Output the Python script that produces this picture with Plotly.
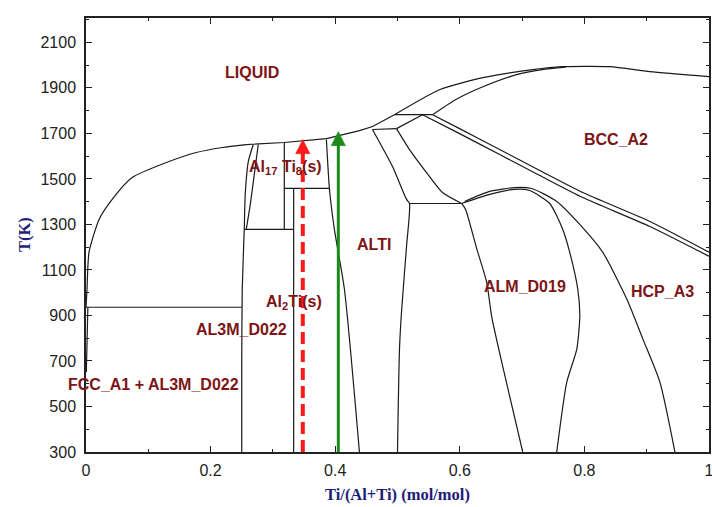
import plotly.graph_objects as go

# ---------------- data (x = Ti/(Al+Ti), T in K) ----------------
liq_al_x = [0.0, 0.0016, 0.0048, 0.021, 0.042, 0.074, 0.129, 0.177, 0.219, 0.257]
liq_al_T = [936, 1015, 1177, 1322, 1410, 1506, 1572, 1616, 1638, 1651]
liq_mid_x = [0.257, 0.318, 0.386, 0.439, 0.460, 0.495]
liq_mid_T = [1651, 1660, 1677, 1712, 1730, 1782]
liq_bcc_x = [0.495, 0.5675, 0.637, 0.717, 0.765, 0.841, 0.905, 1.0]
liq_bcc_T = [1782, 1892, 1945, 1980, 1993, 1993, 1971, 1949]
sol_bcc_x = [0.5563, 0.593, 0.637, 0.691, 0.732, 0.770]
sol_bcc_T = [1782, 1848, 1905, 1958, 1980, 1991]

peri_hi_x = [0.4952, 0.5563]
peri_hi_T = [1782, 1782]
peri_lo_x = [0.4598, 0.4984]
peri_lo_T = [1717, 1721]
alpha_top_x = [0.4984, 0.5402]
alpha_top_T = [1721, 1782]

transus_b_x = [0.5563, 0.5997, 0.664, 0.7283, 0.7974, 0.9051, 1.0]
transus_b_T = [1782, 1721, 1629, 1537, 1440, 1313, 1178]
transus_a_x = [0.5402, 0.5997, 0.664, 0.7283, 0.7974, 0.9051, 1.0]
transus_a_T = [1782, 1699, 1607, 1515, 1418, 1291, 1160]

gamma_r_x = [0.4598, 0.492, 0.5145, 0.5193, 0.5145, 0.5064, 0.5032, 0.5]
gamma_r_T = [1717, 1554, 1410, 1392, 1204, 914, 752, 300]
alpha_l_x = [0.4984, 0.5193, 0.5466, 0.5723, 0.6029]
alpha_l_T = [1721, 1629, 1528, 1440, 1392]
eutectoid_x = [0.5193, 0.6029]
eutectoid_T = [1392, 1392]

a2_left_x = [0.6029, 0.6093, 0.627, 0.6431, 0.6511, 0.6688, 0.701]
a2_left_T = [1392, 1366, 1195, 1046, 896, 677, 300]
a2_right_x = [0.6029, 0.6479, 0.6881, 0.7122, 0.7444, 0.7653, 0.7765, 0.7894, 0.7926, 0.7878, 0.7717, 0.7556]
a2_right_T = [1392, 1432, 1454, 1449, 1392, 1278, 1177, 1015, 896, 752, 607, 300]
a2_outer_x = [0.6077, 0.6479, 0.6881, 0.7154, 0.7556, 0.7926, 0.8296, 0.8682, 0.8939, 0.9212, 0.9453]
a2_outer_T = [1401, 1445, 1462, 1458, 1401, 1300, 1177, 971, 796, 607, 300]

gamma_l_x = [0.3859, 0.3907, 0.3987, 0.4148, 0.4389]
gamma_l_T = [1673, 1458, 1278, 1015, 300]

box_left_x = [0.3183, 0.3183]
box_left_T = [1660, 1278]
box_mid_x = [0.3183, 0.3907]
box_mid_T = [1458, 1458]
al2ti_x = [0.3333, 0.3333]
al2ti_T = [1458, 300]
h1278_x = [0.254, 0.3333]
h1278_T = [1278, 1278]

al3ti_a_x = [0.2685, 0.2605, 0.2556, 0.254, 0.2508, 0.25, 0.25]
al3ti_a_T = [1651, 1576, 1432, 1278, 1015, 700, 300]
al3ti_b_x = [0.2765, 0.2701, 0.2637, 0.2572]
al3ti_b_T = [1651, 1519, 1388, 1278]

h936_x = [0.0, 0.25]
h936_T = [936, 936]
fcc_x = [0.003, 0.0025, 0.0015, 0.0005]
fcc_T = [936, 880, 760, 650]

red_arrow_x = 0.348
red_arrow_T = [300, 1673]
green_arrow_x = 0.405
green_arrow_T = [300, 1708]

labels = [
    ("LIQUID", 0.267, 1967),
    ("BCC_A2", 0.850, 1673),
    ("ALTI", 0.462, 1210),
    ("ALM_D019", 0.704, 1028),
    ("HCP_A3", 0.926, 1006),
    ("AL3M_D022", 0.249, 839),
    ("FCC_A1 + AL3M_D022", 0.109, 598),
    ("Al<sub>2</sub>Ti(s)", 0.334, 958),
    ("Al<sub>17</sub> Ti<sub>8</sub>(s)", 0.321, 1550),
]

x_ticks = [0, 0.2, 0.4, 0.6, 0.8, 1]
x_ticktext = ["0", "0.2", "0.4", "0.6", "0.8", "1"]
y_ticks = [300, 500, 700, 900, 1100, 1300, 1500, 1700, 1900, 2100]

# ---------------- styles ----------------
LINE_COL = "#1a1a1a"
LW = 1.2
LABEL_COL = "#7d1416"
HEAD_HW = 0.0115   # half width of arrow head (x units)
HEAD_H = 62        # arrow head height (K)

fig = go.Figure()

curves = [
    (liq_al_x, liq_al_T, "spline"),
    (liq_mid_x, liq_mid_T, "linear"),
    (liq_bcc_x, liq_bcc_T, "spline"),
    (sol_bcc_x, sol_bcc_T, "spline"),
    (peri_hi_x, peri_hi_T, "linear"),
    (peri_lo_x, peri_lo_T, "linear"),
    (alpha_top_x, alpha_top_T, "linear"),
    (transus_b_x, transus_b_T, "spline"),
    (transus_a_x, transus_a_T, "spline"),
    (gamma_r_x, gamma_r_T, "spline"),
    (alpha_l_x, alpha_l_T, "spline"),
    (eutectoid_x, eutectoid_T, "linear"),
    (a2_left_x, a2_left_T, "spline"),
    (a2_right_x, a2_right_T, "spline"),
    (a2_outer_x, a2_outer_T, "spline"),
    (gamma_l_x, gamma_l_T, "spline"),
    (box_left_x, box_left_T, "linear"),
    (box_mid_x, box_mid_T, "linear"),
    (al2ti_x, al2ti_T, "linear"),
    (h1278_x, h1278_T, "linear"),
    (al3ti_a_x, al3ti_a_T, "spline"),
    (al3ti_b_x, al3ti_b_T, "spline"),
    (h936_x, h936_T, "linear"),
    (fcc_x, fcc_T, "spline"),
]
for cx, cy, shp in curves:
    fig.add_trace(go.Scatter(x=cx, y=cy, mode="lines",
                             line=dict(color=LINE_COL, width=LW, shape=shp, smoothing=0.6),
                             hoverinfo="skip", showlegend=False, cliponaxis=True))

# arrows
for ax_x, ax_T, col, dash, w in [
    (red_arrow_x, red_arrow_T, "#ff1a1a", "12px,6px", 4),
    (green_arrow_x, green_arrow_T, "#1b8a1b", "solid", 3),
]:
    fig.add_trace(go.Scatter(x=[ax_x, ax_x], y=[ax_T[0], ax_T[1] - HEAD_H + 5], mode="lines",
                             line=dict(color=col, width=w, dash=dash),
                             hoverinfo="skip", showlegend=False))
    fig.add_trace(go.Scatter(x=[ax_x - HEAD_HW, ax_x + HEAD_HW, ax_x, ax_x - HEAD_HW],
                             y=[ax_T[1] - HEAD_H, ax_T[1] - HEAD_H, ax_T[1], ax_T[1] - HEAD_H],
                             mode="lines", fill="toself", fillcolor=col,
                             line=dict(color=col, width=0.5),
                             hoverinfo="skip", showlegend=False))

annotations = []
for txt, lx, ly in labels:
    annotations.append(dict(x=lx, y=ly, xref="x", yref="y", text="<b>" + txt + "</b>",
                            showarrow=False,
                            font=dict(family="Liberation Sans, Arial", size=16, color=LABEL_COL)))

TITLE_COL = "#1e1e78"
annotations.append(dict(x=0.5, y=-0.099, xref="paper", yref="paper",
                        xanchor="center", yanchor="middle",
                        text="<b>Ti/(Al+Ti) (mol/mol)</b>", showarrow=False,
                        font=dict(family="Liberation Serif, Times New Roman", size=16.5, color=TITLE_COL)))
annotations.append(dict(x=-0.0995, y=0.5, xref="paper", yref="paper", textangle=-90,
                        xanchor="center", yanchor="middle",
                        text="<b>T(K)</b>", showarrow=False,
                        font=dict(family="Liberation Serif, Times New Roman", size=16.5, color=TITLE_COL)))

axis_common = dict(showgrid=False, zeroline=False, showline=True, linecolor="#222",
                   linewidth=1.5, mirror="allticks", ticks="inside", tickcolor="#222",
                   ticklen=6, tickwidth=1, automargin=False, ticklabeloverflow="allow",
                   tickfont=dict(family="Liberation Sans, Arial", size=16, color="#222"))

fig.update_layout(
    width=712, height=507,
    margin=dict(l=86, r=3, t=18, b=55),
    paper_bgcolor="white", plot_bgcolor="white",
    template="none",
    showlegend=False,
    annotations=annotations,
    xaxis=dict(range=[0, 1], tickvals=x_ticks, ticktext=x_ticktext, ticklabelstandoff=3,
               minor=dict(dtick=0.1, tick0=0, ticks="inside", ticklen=3, tickcolor="#222"),
               **axis_common),
    yaxis=dict(range=[300, 2207], tickvals=y_ticks, ticklabelstandoff=5,
               minor=dict(dtick=100, tick0=300, ticks="inside", ticklen=3, tickcolor="#222"),
               **axis_common),
)

fig.write_html("out.html")
